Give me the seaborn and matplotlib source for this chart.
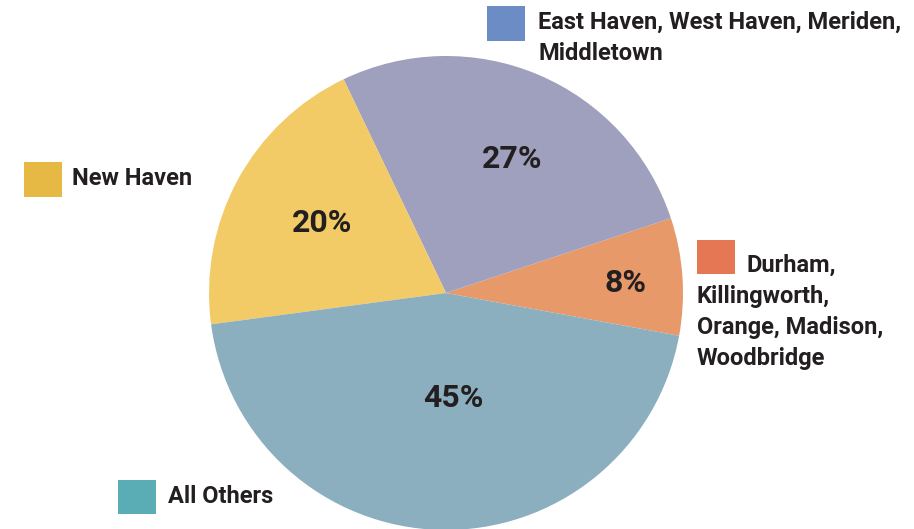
import matplotlib
matplotlib.use("Agg")
import matplotlib.pyplot as plt
from matplotlib.patches import Rectangle
import seaborn as sns

# Share of visitors by town group
groups = ["Durham, Killingworth, Orange, Madison, Woodbridge",
          "East Haven, West Haven, Meriden, Middletown",
          "New Haven",
          "All Others"]
shares = [8, 27, 20, 45]

wedge_colors = ["#E8996A", "#9FA0BD", "#F2CB67", "#8CAFC0"]
key_colors = ["#E57755", "#6B8CC4", "#E6B844", "#5AADB4"]

sns.set_theme(style="white")
plt.rcParams["font.family"] = ["Roboto", "DejaVu Sans"]

W, H = 914, 529
fig = plt.figure(figsize=(W / 100, H / 100), dpi=100)
ax = fig.add_axes([0, 0, 1, 1])

def Y(y):
    return H - y

cx, cy, r = 446, 293, 237
wedges, _, pct_texts = ax.pie(
    shares, colors=wedge_colors, startangle=-10.4, counterclock=True,
    center=(cx, Y(cy)), radius=r, autopct=lambda p: f"{p:.0f}%",
    wedgeprops=dict(linewidth=0), frame=True,
    textprops=dict(fontsize=23, fontweight="bold", color="#231F20"))
ax.set_xlim(0, W)
ax.set_ylim(0, H)
ax.set_aspect("equal")
ax.axis("off")

# Label centres (pixel coordinates from the top-left)
pct_pos = [(625, 283), (512, 159), (322, 223), (453, 398)]
for t, (x, y) in zip(pct_texts, pct_pos):
    t.set_position((x, Y(y)))
    t.set_ha("center")
    t.set_va("center")

txt_kw = dict(fontsize=17, fontweight="bold", color="#231F20", va="baseline", ha="left")

def key_box(x0, y0, x1, y1, color):
    ax.add_patch(Rectangle((x0, Y(y1)), x1 - x0, y1 - y0, facecolor=color,
                           edgecolor="none"))

# Durham group
key_box(697, 240, 735, 274, key_colors[0])
ax.text(747, Y(272), "Durham,", **txt_kw)
for i, line in enumerate(["Killingworth,", "Orange, Madison,", "Woodbridge"]):
    ax.text(697, Y(303 + 31 * i), line, **txt_kw)

# East Haven group
key_box(487, 6, 525, 41, key_colors[1])
ax.text(538, Y(29), "East Haven, West Haven, Meriden,", **txt_kw)
ax.text(538, Y(60), "Middletown", **txt_kw)

# New Haven
key_box(24, 162, 62, 197, key_colors[2])
ax.text(72, Y(185), groups[2], **txt_kw)

# All Others
key_box(118, 480, 156, 514, key_colors[3])
ax.text(168, Y(503), groups[3], **txt_kw)

fig.savefig("out.png", dpi=100, facecolor="white")
